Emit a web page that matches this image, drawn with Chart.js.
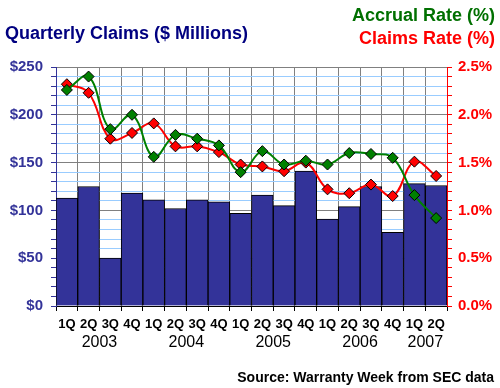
<!DOCTYPE html>
<html>
<head>
<meta charset="utf-8">
<script src="https://cdn.jsdelivr.net/npm/chart.js@4"></script>
<style>
  html, body { margin: 0; padding: 0; background: #fff; }
  #wrap { width: 500px; height: 388px; }
</style>
</head>
<body>
<div id="wrap"><canvas id="claimsChart" width="500" height="388"></canvas></div>
<script>
const quarters = ['1Q','2Q','3Q','4Q','1Q','2Q','3Q','4Q','1Q','2Q','3Q','4Q','1Q','2Q','3Q','4Q','1Q','2Q'];
const years = ['2003','2003','2003','2003','2004','2004','2004','2004','2005','2005','2005','2005','2006','2006','2006','2006','2007','2007'];
const claims = [113, 125, 50, 118, 111, 102, 111, 109, 97, 116, 105, 141, 91, 104, 125, 77, 128, 126];
const accrualRate = [2.26, 2.40, 1.85, 2.00, 1.56, 1.79, 1.75, 1.68, 1.40, 1.62, 1.48, 1.52, 1.48, 1.60, 1.59, 1.55, 1.16, 0.92];
const claimsRate = [2.32, 2.23, 1.75, 1.81, 1.91, 1.67, 1.67, 1.61, 1.48, 1.46, 1.41, 1.50, 1.22, 1.18, 1.27, 1.15, 1.51, 1.36];

const FONT = 'Arial, "Liberation Sans", sans-serif';

// titles, legend text, year row and source line
const textPlugin = {
    id: 'texts',
    afterDraw(chart) {
        const ctx = chart.ctx;
        const x = chart.scales.x;
        ctx.save();
        ctx.textBaseline = 'alphabetic';
        ctx.font = 'bold 18px ' + FONT;
        ctx.fillStyle = '#000080';
        ctx.textAlign = 'left';
        ctx.fillText('Quarterly Claims ($ Millions)', 5, 39);
        ctx.textAlign = 'right';
        ctx.fillStyle = '#007000';
        ctx.fillText('Accrual Rate (%)', 495, 21);
        ctx.fillStyle = '#ff0000';
        ctx.fillText('Claims Rate (%)', 495, 44);

        // year labels centred under their quarters
        ctx.font = '16px ' + FONT;
        ctx.fillStyle = '#000';
        ctx.textAlign = 'center';
        const groups = {};
        years.forEach((y, i) => { (groups[y] = groups[y] || []).push(i); });
        Object.keys(groups).forEach(y => {
            const idx = groups[y];
            const px = (x.getPixelForValue(idx[0]) + x.getPixelForValue(idx[idx.length - 1])) / 2;
            ctx.fillText(y, px, 347);
        });

        ctx.font = 'bold 14px ' + FONT;
        ctx.textAlign = 'right';
        ctx.fillText('Source: Warranty Week from SEC data', 494, 382);
        ctx.restore();
    }
};

new Chart(document.getElementById('claimsChart').getContext('2d'), {
    type: 'bar',
    data: {
        labels: quarters,
        datasets: [{
            type: 'line',
            label: 'Accrual Rate (%)',
            data: accrualRate,
            yAxisID: 'y2',
            borderColor: '#008000',
            borderWidth: 2,
            tension: 0.4,
            pointStyle: 'rectRot',
            pointRadius: 5.5,
            pointBackgroundColor: '#008000',
            pointBorderColor: '#000',
            pointBorderWidth: 1,
            order: 1
        }, {
            type: 'line',
            label: 'Claims Rate (%)',
            data: claimsRate,
            yAxisID: 'y2',
            borderColor: '#ff0000',
            borderWidth: 2,
            tension: 0.4,
            pointStyle: 'rectRot',
            pointRadius: 5.5,
            pointBackgroundColor: '#ff0000',
            pointBorderColor: '#000',
            pointBorderWidth: 1,
            order: 2
        }, {
            label: 'Quarterly Claims',
            data: claims,
            yAxisID: 'y',
            backgroundColor: '#333399',
            borderColor: '#000',
            borderWidth: 1,
            barPercentage: 1,
            categoryPercentage: 1,
            order: 3
        }]
    },
    options: {
        responsive: false,
        animation: false,
        layout: { padding: { top: 67 } },
        scales: {
            x: {
                offset: true,
                grid: { offset: true, color: '#808080', tickColor: '#000', tickLength: 5 },
                border: { color: '#000' },
                ticks: { color: '#000', font: { family: FONT, size: 13, weight: 'bold' }, padding: 6, maxRotation: 0, autoSkip: false },
                afterFit(s) { s.height = 82; }
            },
            y: {
                position: 'left',
                min: 0,
                max: 250,
                ticks: {
                    stepSize: 10,
                    autoSkip: false,
                    color: '#333399',
                    font: { family: FONT, size: 15, weight: 'bold' },
                    padding: 8,
                    callback: v => v % 50 === 0 ? '$' + v : ''
                },
                grid: {
                    color: c => c.tick && c.tick.value % 50 === 0 ? '#808080' : '#99ccff',
                    tickColor: '#333399',
                    tickLength: 5
                },
                border: { color: '#333399' },
                afterFit(s) { s.width = 56; }
            },
            y2: {
                position: 'right',
                min: 0,
                max: 2.5,
                ticks: {
                    stepSize: 0.1,
                    autoSkip: false,
                    color: '#ff0000',
                    font: { family: FONT, size: 15, weight: 'bold' },
                    padding: 6,
                    callback: v => Math.round(v * 10) % 5 === 0 ? v.toFixed(1) + '%' : ''
                },
                grid: { drawOnChartArea: false, tickColor: '#ff0000', tickLength: 5 },
                border: { color: '#ff0000' },
                afterFit(s) { s.width = 53; }
            }
        },
        plugins: {
            legend: { display: false },
            title: { display: false },
            tooltip: { enabled: false }
        }
    },
    plugins: [textPlugin]
});
</script>
</body>
</html>
